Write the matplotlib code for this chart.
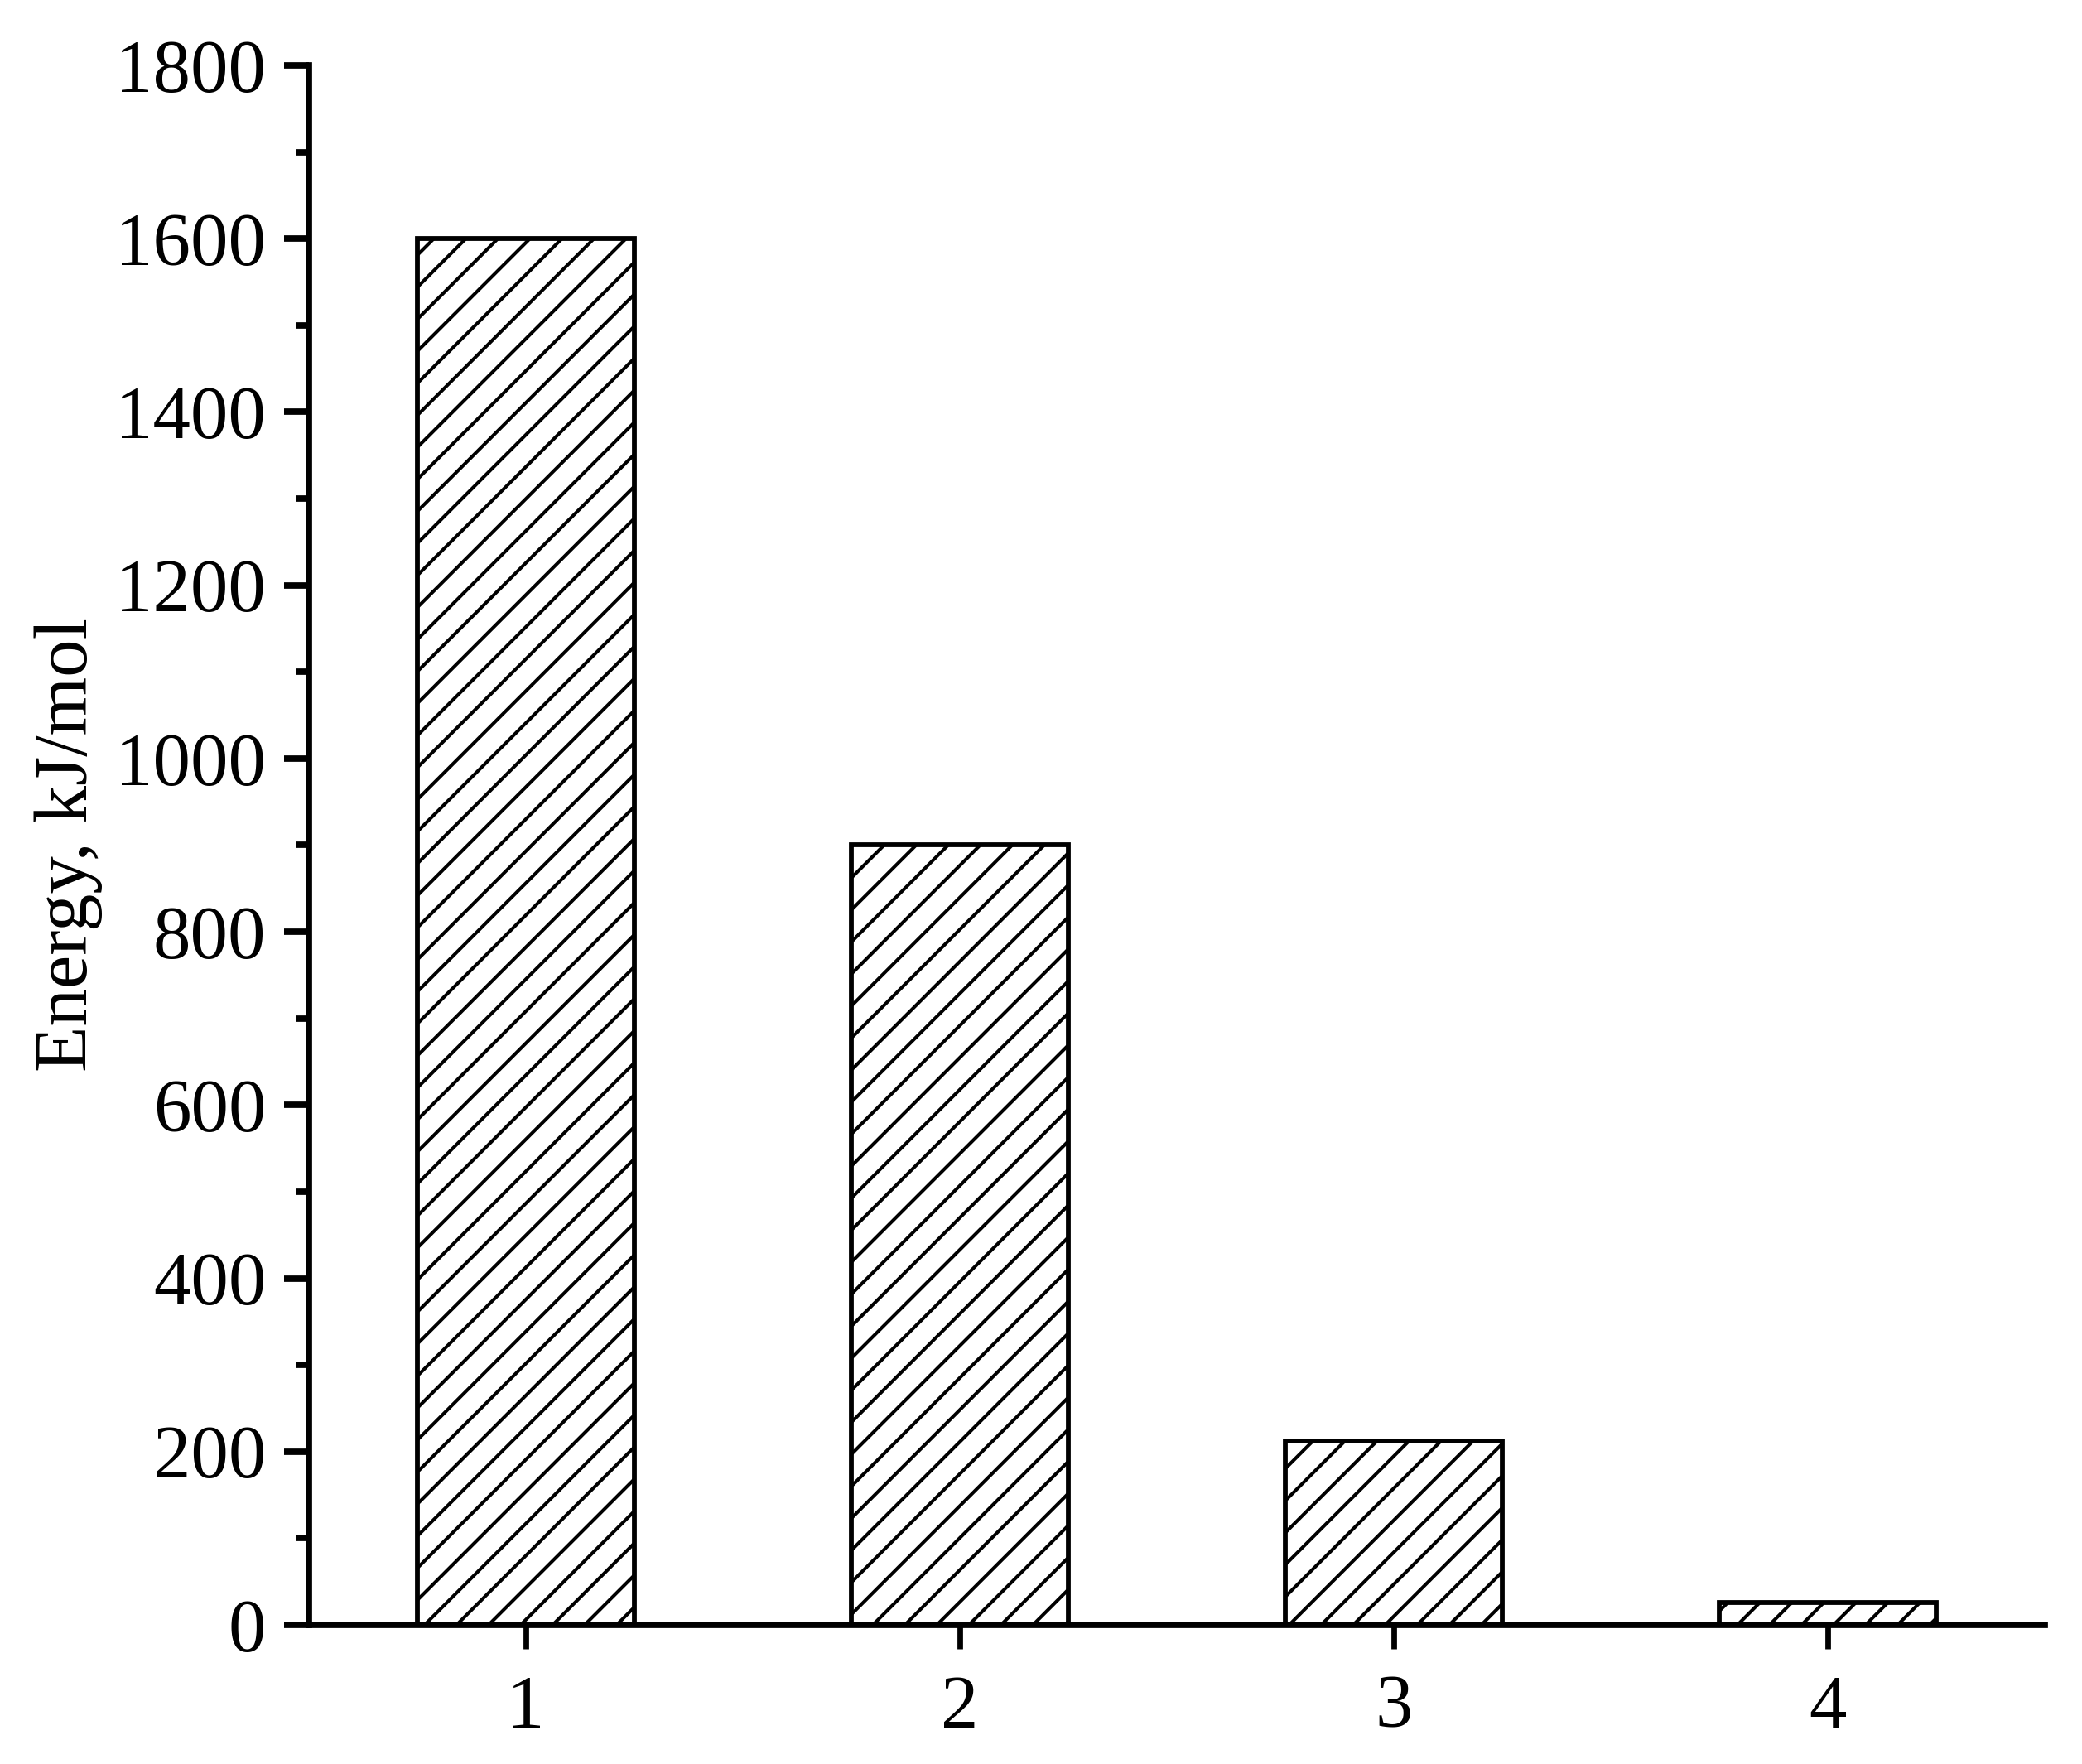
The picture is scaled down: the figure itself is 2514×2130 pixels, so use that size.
import matplotlib
matplotlib.use("Agg")
import matplotlib.pyplot as plt
from matplotlib.ticker import MultipleLocator

categories = [1, 2, 3, 4]
energies = [1600, 900, 212, 26]
yticks = [0, 200, 400, 600, 800, 1000, 1200, 1400, 1600, 1800]

DPI = 348
plt.rcParams['font.family'] = ['Liberation Serif', 'DejaVu Serif']
plt.rcParams['hatch.linewidth'] = 0.85

fig = plt.figure(figsize=(2514 / DPI, 2130 / DPI), dpi=DPI)
ax = fig.add_axes([0.1484, 0.0789, 0.9821 - 0.1484, 0.9629 - 0.0789])

ax.bar(categories, energies, width=0.5, facecolor='white', edgecolor='black',
       linewidth=1.2, hatch='///', zorder=2)

ax.set_xlim(0.5, 4.5)
ax.set_ylim(0, 1800)
ax.set_xticks(categories)
ax.set_xticklabels([str(c) for c in categories])
ax.set_yticks(yticks)
ax.yaxis.set_minor_locator(MultipleLocator(100))

for s in ['top', 'right']:
    ax.spines[s].set_visible(False)
for s in ['left', 'bottom']:
    ax.spines[s].set_linewidth(1.6)

ax.tick_params(axis='y', which='major', direction='out', length=6.2, width=1.6,
               labelsize=18.8, pad=4.5)
ax.tick_params(axis='y', which='minor', direction='out', length=3.1, width=1.6)
ax.tick_params(axis='x', which='major', direction='out', length=6.0, width=1.4,
               labelsize=18.8, pad=6.5)

ax.set_ylabel('Energy, kJ/mol', fontsize=18.8)
ax.yaxis.set_label_coords(-0.119, 0.5)

fig.savefig('out.png', dpi=DPI)
